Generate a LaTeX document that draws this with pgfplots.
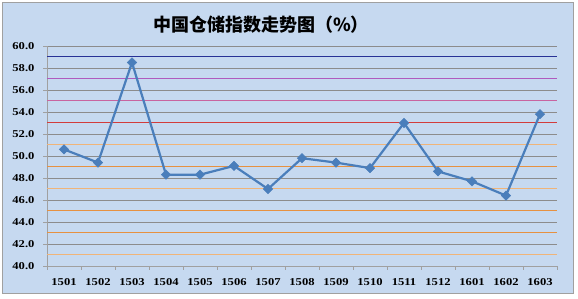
\documentclass[border=0pt]{standalone}
\usepackage{pgfplots}
\pgfplotsset{compat=1.18}
\usepackage{fontspec}
\setmainfont{Liberation Serif}
\newfontfamily\tickfont[FakeStretch=1.2]{Liberation Serif}
\newfontfamily\cjk{Noto Sans CJK SC}
\definecolor{bgblue}{RGB}{198,217,240}
\definecolor{framegray}{RGB}{160,160,160}
\definecolor{gridgray}{RGB}{140,140,140}
\definecolor{lineblue}{RGB}{74,126,187}
\definecolor{navyl}{RGB}{40,50,150}
\definecolor{purpl}{RGB}{175,90,190}
\definecolor{pinkl}{RGB}{200,100,160}
\definecolor{redl}{RGB}{210,60,60}
\definecolor{lorange}{RGB}{240,180,120}
\definecolor{orangel}{RGB}{230,145,65}
\begin{document}
\begin{tikzpicture}[x=1pt,y=1pt]
\fill[white] (0,0) rectangle (578,299);
\fill[bgblue,draw=framegray,line width=0.8pt] (2,6) rectangle (573,297);
\node at (261,274) {\cjk\bfseries\fontsize{18}{18}\selectfont 中国仓储指数走势图（\%）};
\begin{axis}[
  at={(47pt,33pt)}, anchor=south west,
  scale only axis, width=510pt, height=220pt,
  xmin=-0.5, xmax=14.5, ymin=40, ymax=60,
  axis x line*=bottom, axis y line*=left,
  axis line style={draw=framegray, line width=0.8pt},
  ytick={40,42,...,60},
  ymajorgrids, major grid style={draw=gridgray, line width=0.7pt},
  xtick={0,...,14},
  xticklabels={1501,1502,1503,1504,1505,1506,1507,1508,1509,1510,1511,1512,1601,1602,1603},
  minor xtick={-0.5,0.5,...,14.5},
  tick align=outside,
  major x tick style={draw=none},
  minor tick length=4pt, major tick length=4pt,
  tick style={draw=framegray, line width=0.7pt},
  yticklabel style={/pgf/number format/.cd, fixed, fixed zerofill, precision=1, /tikz/.cd, font=\tickfont\bfseries\fontsize{10.5}{10.5}\selectfont, xshift=-5pt},
  /pgf/number format/assume math mode=true,
  xticklabel style={font=\tickfont\bfseries\fontsize{10.5}{10.5}\selectfont, yshift=-5pt},
  clip=false,
]
\addplot[forget plot, draw=navyl, line width=1pt] coordinates {(-0.5,59) (14.5,59)};
\addplot[forget plot, draw=purpl, line width=1pt] coordinates {(-0.5,57) (14.5,57)};
\addplot[forget plot, draw=pinkl, line width=1pt] coordinates {(-0.5,55) (14.5,55)};
\addplot[forget plot, draw=redl, line width=1pt] coordinates {(-0.5,53) (14.5,53)};
\addplot[forget plot, draw=lorange, line width=1pt] coordinates {(-0.5,51) (14.5,51)};
\addplot[forget plot, draw=orangel, line width=1pt] coordinates {(-0.5,49) (14.5,49)};
\addplot[forget plot, draw=lorange, line width=1pt] coordinates {(-0.5,47) (14.5,47)};
\addplot[forget plot, draw=orangel, line width=1pt] coordinates {(-0.5,45) (14.5,45)};
\addplot[forget plot, draw=orangel, line width=1pt] coordinates {(-0.5,43) (14.5,43)};
\addplot[forget plot, draw=lorange, line width=1pt] coordinates {(-0.5,41) (14.5,41)};
\addplot[draw=lineblue, line width=2.2pt, mark=square*, mark size=3.3pt,
  mark options={fill=lineblue, draw=lineblue, line width=0.5pt, rotate=45}]
  coordinates {(0,50.6) (1,49.4) (2,58.5) (3,48.3) (4,48.3) (5,49.1) (6,47.0) (7,49.8) (8,49.4) (9,48.9) (10,53.0) (11,48.6) (12,47.7) (13,46.4) (14,53.8)};
\end{axis}
\end{tikzpicture}
\end{document}
